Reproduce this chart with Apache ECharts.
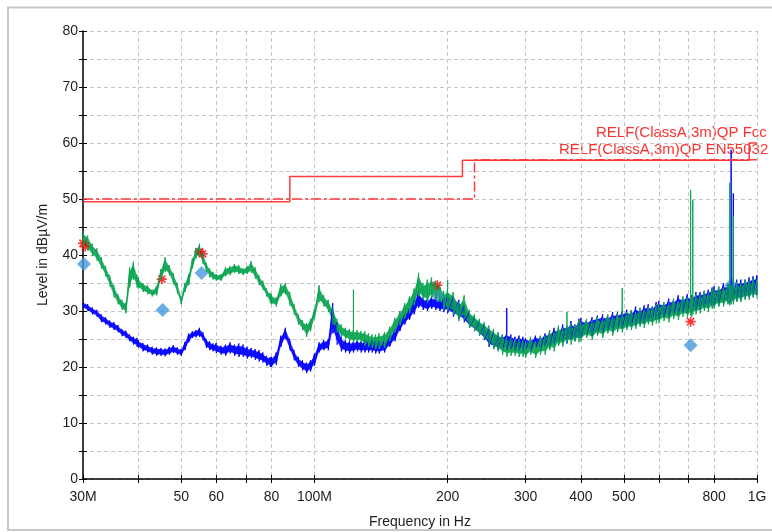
<!DOCTYPE html>
<html>
<head>
<meta charset="utf-8">
<script src="https://cdn.jsdelivr.net/npm/echarts@6/dist/echarts.min.js"></script>
<style>
  html, body { margin: 0; padding: 0; background: #ffffff; }
  #chart { width: 772px; height: 532px; }
</style>
</head>
<body>
<div id="chart"></div>
<script>
// Scan frequencies (MHz) of the preview sweep
const sweepMHz = [
  30, 30.75, 31.5, 32.25, 33, 33.75, 34.5, 35.25, 36, 36.75, 37.5, 38.25, 39, 39.75,
  40, 41, 42, 43, 44, 45, 46, 47, 48, 49, 50, 51, 52, 53, 54, 55, 56, 57, 58, 59,
  60, 61.5, 63, 64.5, 66, 67.5, 69, 70.5, 72, 73.5, 75, 76.5, 78, 79.5,
  80, 82, 84, 86, 88, 90, 92, 94, 96, 98,
  100, 102.5, 105, 107.5, 110, 112.5, 115, 117.5, 120, 122.5, 125, 127.5, 130, 132.5, 135, 137.5,
  140, 144, 148, 152, 156, 160, 164, 168, 172, 176, 180, 184, 188, 192, 196,
  200, 206, 212, 218, 224, 230, 236, 242, 248, 254, 260, 266, 272, 278, 284, 290, 296,
  300, 308, 316, 324, 332, 340, 348, 356, 364, 372, 380, 388, 396,
  400, 412, 424, 436, 448, 460, 472, 484, 496, 508, 520, 532, 544, 556, 568, 580, 592,
  600, 616, 632, 648, 664, 680, 696, 708, 712, 716, 728, 744, 760, 776, 792,
  800, 820, 840, 860, 868, 874, 884, 900, 920, 940, 960, 980, 1000
];

// Vertical polarisation peak trace: upper / lower edge of the noise band, dBµV/m
const verticalTop = [
  31.7, 31.2, 30.6, 30.2, 29.4, 28.9, 28.3, 28.0, 27.5, 26.8, 26.5, 25.8, 25.4, 25.2,
  24.8, 24.3, 24.0, 23.6, 23.5, 23.4, 23.3, 23.6, 23.9, 23.5, 23.2, 24.5, 26.0, 26.4, 26.6, 27.0, 26.2, 25.0, 24.6, 24.2,
  24.3, 23.8, 24.0, 24.4, 24.0, 24.2, 24.0, 23.6, 23.4, 23.2, 23.0, 22.6, 22.0, 21.8,
  21.8, 22.6, 25.6, 27.0, 25.0, 23.0, 21.8, 21.2, 20.8, 21.2,
  22.4, 24.4, 24.8, 25.0, 31.4, 28.0, 25.4, 24.8, 24.6, 24.6, 24.8, 24.6, 24.8, 24.8, 24.8, 24.8,
  24.6, 24.8, 25.6, 26.8, 28.6, 29.6, 30.6, 32.0, 33.6, 32.4, 32.2, 32.6, 32.4, 32.2, 32.4,
  33.2, 32.6, 32.0, 31.0, 29.8, 29.0, 28.2, 27.6, 26.8, 26.4, 26.0, 25.8, 26.2, 25.8, 25.4, 25.6, 25.4,
  25.2, 25.0, 25.6, 25.4, 26.0, 26.2, 27.0, 26.8, 27.6, 27.4, 28.2, 27.6, 28.6,
  28.8, 28.4, 28.9, 29.2, 29.4, 29.2, 29.8, 29.8, 30.0, 30.2, 30.0, 30.8, 30.4, 31.0, 31.2, 30.8, 31.6,
  31.8, 31.4, 32.2, 32.0, 32.8, 32.4, 33.0, 32.6, 32.8, 32.6, 33.4, 33.4, 33.6, 33.8, 34.2,
  34.4, 34.2, 35.0, 34.8, 34.8, 34.8, 35.0, 35.6, 35.6, 35.6, 36.0, 36.2, 36.4
];
const verticalBottom = [
  30.5, 30.0, 29.4, 29.0, 28.0, 27.6, 27.0, 26.6, 26.2, 25.5, 25.2, 24.6, 24.0, 23.6,
  23.5, 22.8, 22.6, 22.2, 22.0, 22.0, 21.9, 22.2, 22.5, 22.2, 22.0, 23.0, 24.4, 25.2, 25.3, 25.4, 24.8, 23.4, 23.0, 22.8,
  22.5, 22.2, 22.0, 22.4, 22.0, 21.8, 21.8, 21.5, 21.6, 21.3, 21.0, 20.8, 20.2, 20.0,
  20.0, 20.4, 23.6, 25.0, 23.0, 21.2, 20.0, 19.4, 18.9, 19.2,
  20.2, 22.6, 23.0, 23.0, 26.0, 24.0, 22.8, 22.6, 22.4, 22.6, 22.8, 22.6, 22.6, 22.6, 22.6, 22.4,
  22.4, 22.6, 23.6, 24.6, 26.4, 27.6, 28.4, 29.4, 30.6, 30.2, 30.0, 30.4, 30.2, 30.0, 29.8,
  29.6, 29.0, 28.6, 28.0, 27.0, 26.4, 25.6, 24.8, 23.6, 23.2, 23.0, 22.8, 23.0, 23.2, 23.0, 23.0, 22.8,
  23.2, 22.8, 23.4, 23.0, 23.8, 23.2, 24.2, 23.8, 24.6, 24.2, 25.0, 24.6, 25.2,
  25.2, 25.4, 25.6, 25.8, 26.0, 26.2, 26.4, 26.6, 26.8, 27.0, 27.2, 27.4, 27.6, 27.8, 28.0, 28.2, 28.4,
  28.6, 28.8, 29.0, 29.2, 29.4, 29.6, 29.6, 29.8, 29.8, 30.0, 30.0, 30.2, 30.4, 30.6, 30.8,
  30.8, 31.0, 31.2, 31.4, 31.4, 31.6, 31.6, 31.8, 32.0, 32.2, 32.4, 32.6, 32.8
];
// Narrowband emissions rising out of the vertical trace: [MHz, dBµV/m]
const verticalSpikes = [[272, 30.5], [874, 58.8], [884, 51.0]];

// Horizontal polarisation peak trace, dBµV/m
const horizontalTop = [
  44.3, 43.5, 42.0, 41.2, 39.6, 38.0, 36.4, 34.6, 33.0, 32.0, 31.5, 37.8, 38.8, 36.5,
  36.0, 35.0, 34.6, 33.8, 34.5, 37.5, 39.6, 38.2, 36.8, 35.0, 32.5, 35.0, 36.6, 39.4, 41.2, 42.0, 40.4, 38.6, 37.6, 37.0,
  36.6, 36.6, 37.8, 38.0, 38.4, 38.2, 37.6, 38.0, 38.9, 37.8, 36.4, 35.4, 34.0, 33.2,
  33.0, 32.4, 34.8, 35.0, 33.4, 31.2, 29.4, 28.4, 27.8, 28.6,
  30.4, 34.6, 32.8, 32.0, 30.6, 28.6, 27.6, 27.0, 26.8, 26.6, 26.6, 26.4, 26.4, 26.0, 25.8, 25.8,
  26.0, 26.2, 27.2, 28.8, 30.0, 31.4, 32.6, 34.0, 36.8, 35.0, 35.6, 36.0, 35.4, 34.8, 33.6,
  34.0, 33.4, 31.6, 32.8, 30.2, 29.4, 28.6, 28.0, 27.4, 26.8, 26.2, 25.8, 25.4, 25.2, 25.0, 25.0, 24.8,
  24.6, 25.4, 24.6, 25.6, 25.6, 26.6, 26.2, 27.4, 27.0, 27.6, 27.8, 27.4, 28.4,
  28.0, 28.6, 28.2, 29.0, 28.6, 29.4, 29.0, 29.6, 29.4, 29.8, 30.2, 29.8, 30.6, 30.2, 30.8, 30.6, 31.2,
  31.2, 31.6, 31.4, 32.2, 31.8, 32.6, 32.4, 32.2, 32.6, 32.4, 33.0, 32.8, 33.6, 33.2, 34.0,
  33.8, 34.4, 34.2, 34.8, 34.4, 34.6, 34.8, 35.2, 35.0, 35.6, 35.4, 35.8, 35.6
];
const horizontalBottom = [
  41.5, 40.8, 39.8, 39.0, 37.6, 36.2, 34.4, 32.4, 31.2, 30.2, 29.6, 34.2, 35.6, 34.2,
  34.0, 33.4, 33.0, 32.6, 32.8, 35.5, 37.0, 36.4, 34.8, 33.2, 31.2, 33.4, 34.6, 37.6, 39.4, 39.8, 38.4, 37.0, 36.0, 35.6,
  35.4, 35.4, 36.2, 36.4, 36.8, 36.6, 36.4, 36.6, 36.8, 35.8, 34.6, 33.8, 32.6, 31.4,
  31.2, 30.8, 32.6, 33.0, 31.0, 29.4, 27.6, 26.6, 25.4, 26.4,
  28.6, 31.6, 30.8, 29.8, 27.6, 26.2, 25.4, 25.0, 24.6, 24.4, 24.6, 24.4, 23.8, 23.6, 23.4, 23.2,
  23.2, 23.4, 24.6, 26.2, 27.4, 28.6, 29.6, 31.0, 32.6, 32.0, 31.4, 32.4, 32.0, 31.6, 30.2,
  30.0, 29.4, 28.2, 28.6, 27.0, 26.4, 25.6, 25.0, 24.0, 23.2, 22.8, 22.2, 21.8, 22.0, 22.0, 21.8, 21.8,
  21.6, 22.2, 21.6, 22.2, 22.2, 23.0, 22.8, 23.8, 23.6, 24.4, 24.0, 24.6, 24.4,
  24.6, 25.2, 24.8, 25.6, 25.2, 26.0, 25.6, 26.2, 26.2, 26.6, 26.6, 26.8, 27.2, 27.0, 27.6, 27.4, 27.8,
  27.8, 28.2, 28.0, 28.6, 28.4, 29.0, 28.8, 29.2, 29.0, 29.4, 29.4, 29.6, 30.0, 29.8, 30.4,
  30.4, 30.8, 30.8, 31.2, 31.0, 31.2, 31.2, 31.6, 31.6, 32.0, 32.0, 32.4, 32.2
];
// Narrowband emissions rising out of the horizontal trace: [MHz, dBµV/m]
const horizontalSpikes = [
  [122.5, 33.8], [200, 35.5], [372, 29.8], [496, 34.1], [708, 51.6], [716, 49.8], [868, 52.9], [884, 47.0]
];

// Critical frequencies found in the preview scan: [MHz, dBµV/m]
const criticalPeaks = [
  [30.0, 42.1], [30.35, 41.5], [45.2, 35.7], [54.9, 40.6], [55.9, 40.2], [189.5, 34.6], [708, 28.1]
];
// Final quasi-peak measurement results: [MHz, dBµV/m]
const finalQP = [
  [30.15, 38.4], [45.4, 30.2], [55.6, 36.8], [190.5, 32.7], [708, 23.9], [873.6, 34.6]
];

// Limit lines: [MHz, dBµV/m]
const limitFcc = [[30, 49.5], [88, 49.5], [88, 54], [216, 54], [216, 56.9], [960, 56.9], [960, 60], [1000, 60]];
const limitEn55032 = [[30, 50], [230, 50], [230, 57], [1000, 57]];
const limitFccLabel = 'RELF(ClassA,3m)QP Fcc';
const limitEnLabel = 'RELF(ClassA,3m)QP EN55032';

// Axis ticks
const gridMHz = [30, 40, 50, 60, 70, 80, 100, 200, 300, 400, 500, 600, 700, 800, 1000];
const labelMHz = [30, 50, 60, 80, 100, 200, 300, 400, 500, 800, 1000];
const xTickLabels = ['30M', '50', '60', '80', '100M', '200', '300', '400', '500', '800', '1G'];
const yMin = 0, yMax = 80, yStep = 5, yLabelStep = 10;

const FONT = '"Liberation Sans", Arial, Helvetica, sans-serif';
const lg = Math.log10;
const xMin = lg(30), xMax = lg(1000);

// Jagged trace: every sweep point is a vertical stroke from the upper to the lower edge
// of the noise band; narrowband spikes extend the stroke upwards.
function traceData(top, bottom, spikes) {
  const spikeAt = new Map(spikes.map(s => [s[0], s[1]]));
  const pts = [];
  sweepMHz.forEach((f, i) => {
    const x = lg(f);
    pts.push([x, top[i]]);
    if (spikeAt.has(f)) pts.push([x, spikeAt.get(f)]);
    pts.push([x, bottom[i]]);
  });
  return pts;
}
const toLog = arr => arr.map(p => [lg(p[0]), p[1]]);

// Dense core of the noise band (inner part between both edges), one quad per sweep step
const CORE_INSET = 0.2;
function coreSeries(name, top, bottom, color, opacity) {
  const n = sweepMHz.length;
  const hi = i => top[i] - CORE_INSET * (top[i] - bottom[i]);
  const lo = i => bottom[i] + CORE_INSET * (top[i] - bottom[i]);
  return {
    name: name, type: 'custom', silent: true, clip: true,
    data: sweepMHz.map((f, i) => [lg(f), top[i], bottom[i]]),
    encode: { x: 0, y: [1, 2] },
    renderItem: function (params, api) {
      const i = params.dataIndex;
      if (i >= n - 1) return null;
      const x0 = lg(sweepMHz[i]), x1 = lg(sweepMHz[i + 1]);
      const pts = [
        api.coord([x0, hi(i)]), api.coord([x1, hi(i + 1)]),
        api.coord([x1, lo(i + 1)]), api.coord([x0, lo(i)])
      ];
      return {
        type: 'polygon', shape: { points: pts },
        style: { fill: color, opacity: opacity, stroke: color, lineWidth: 0.5 }
      };
    }
  };
}

function xLabel(v) {
  let best = 0, bestD = Infinity;
  labelMHz.forEach((f, i) => {
    const d = Math.abs(lg(f) - v);
    if (d < bestD) { bestD = d; best = i; }
  });
  return xTickLabels[best];
}

const chart = echarts.init(document.getElementById('chart'), null, { renderer: 'canvas' });

const asterisk = 'path://M5,0L5,10M0,5L10,5M1.4,1.4L8.6,8.6M1.4,8.6L8.6,1.4';
const BLUE = '#0000ff', GREEN = '#0ba552';

chart.setOption({
  animation: false,
  backgroundColor: '#ffffff',
  textStyle: { fontFamily: FONT },
  grid: { left: 83, right: 15, top: 31, bottom: 53, outerBoundsMode: 'none' },
  xAxis: [
    {
      type: 'value', min: xMin, max: xMax,
      name: 'Frequency in Hz', nameLocation: 'middle', nameGap: 36,
      nameTextStyle: { fontSize: 14, color: '#1e1e1e', fontFamily: FONT },
      axisLine: { show: true, onZero: false, lineStyle: { color: '#000000', width: 1.5 } },
      axisTick: { show: true, inside: false, length: 4, customValues: gridMHz.map(lg), lineStyle: { color: '#000000', width: 1 } },
      axisLabel: { customValues: labelMHz.map(lg), formatter: xLabel, margin: 11, fontSize: 14, color: '#1e1e1e', fontFamily: FONT },
      splitLine: { show: true, lineStyle: { color: '#c6c6c6', width: 1, type: [4, 3] } }
    },
    {
      type: 'value', min: xMin, max: xMax, position: 'bottom',
      axisLine: { show: false, onZero: false },
      axisTick: { show: true, inside: true, length: 4, customValues: gridMHz.map(lg), lineStyle: { color: '#000000', width: 1 } },
      axisLabel: { show: false },
      splitLine: { show: false }
    }
  ],
  yAxis: [
    {
      type: 'value', min: yMin, max: yMax, interval: yStep,
      name: 'Level in dBµV/m', nameLocation: 'middle', nameGap: 33,
      nameTextStyle: { fontSize: 14, color: '#1e1e1e', fontFamily: FONT },
      axisLine: { show: true, onZero: false, lineStyle: { color: '#000000', width: 1.5 } },
      axisTick: { show: true, inside: false, length: 4, lineStyle: { color: '#000000', width: 1 } },
      axisLabel: { formatter: v => (v % yLabelStep === 0 ? String(v) : ''), margin: 5, fontSize: 14, color: '#1e1e1e', fontFamily: FONT },
      splitLine: { show: true, lineStyle: { color: '#c6c6c6', width: 1, type: [4, 3] } }
    },
    {
      type: 'value', min: yMin, max: yMax, interval: yStep, position: 'left',
      axisLine: { show: false, onZero: false },
      axisTick: { show: true, inside: true, length: 4, lineStyle: { color: '#000000', width: 1 } },
      axisLabel: { show: false },
      splitLine: { show: false }
    }
  ],
  series: [
    {
      name: 'Preview V PK+', type: 'line', data: traceData(verticalTop, verticalBottom, verticalSpikes),
      showSymbol: false, symbol: 'none', silent: true,
      lineStyle: { color: BLUE, width: 1 }
    },
    coreSeries('Preview V PK+ core', verticalTop, verticalBottom, BLUE, 0.9),
    {
      name: 'Preview H PK+', type: 'line', data: traceData(horizontalTop, horizontalBottom, horizontalSpikes),
      showSymbol: false, symbol: 'none', silent: true,
      lineStyle: { color: GREEN, width: 1 }
    },
    coreSeries('Preview H PK+ core', horizontalTop, horizontalBottom, GREEN, 0.9),
    {
      name: limitFccLabel, type: 'line', data: toLog(limitFcc),
      showSymbol: false, symbol: 'none', silent: true,
      lineStyle: { color: '#ff3b3b', width: 1.5 }
    },
    {
      name: limitEnLabel, type: 'line', data: toLog(limitEn55032),
      showSymbol: false, symbol: 'none', silent: true,
      lineStyle: { color: '#ff3b3b', width: 1.5, type: [10, 3, 3, 3] }
    },
    {
      name: 'Critical_Freqs PK+', type: 'scatter', data: toLog(criticalPeaks),
      symbol: asterisk, symbolSize: 10, silent: true,
      itemStyle: { color: 'transparent', borderColor: '#ff0000', borderWidth: 1.6 }
    },
    {
      name: 'Final_Result QPK', type: 'scatter', data: toLog(finalQP),
      symbol: 'diamond', symbolSize: 14, silent: true,
      itemStyle: { color: '#4597dc' }
    }
  ],
  graphic: [
    {
      type: 'rect', silent: true, z: -10,
      shape: { x: 8, y: 7.5, width: 800, height: 522.5 },
      style: { fill: 'none', stroke: '#c8c8c8', lineWidth: 2 }
    },
    {
      type: 'text', silent: true, x: 596, y: 133,
      style: { text: limitFccLabel, font: '15px ' + FONT, fill: '#ff3030', align: 'left', verticalAlign: 'middle' }
    },
    {
      type: 'text', silent: true, x: 559, y: 150,
      style: { text: limitEnLabel, font: '15px ' + FONT, fill: '#ff3030', align: 'left', verticalAlign: 'middle' }
    }
  ]
});
</script>
</body>
</html>
